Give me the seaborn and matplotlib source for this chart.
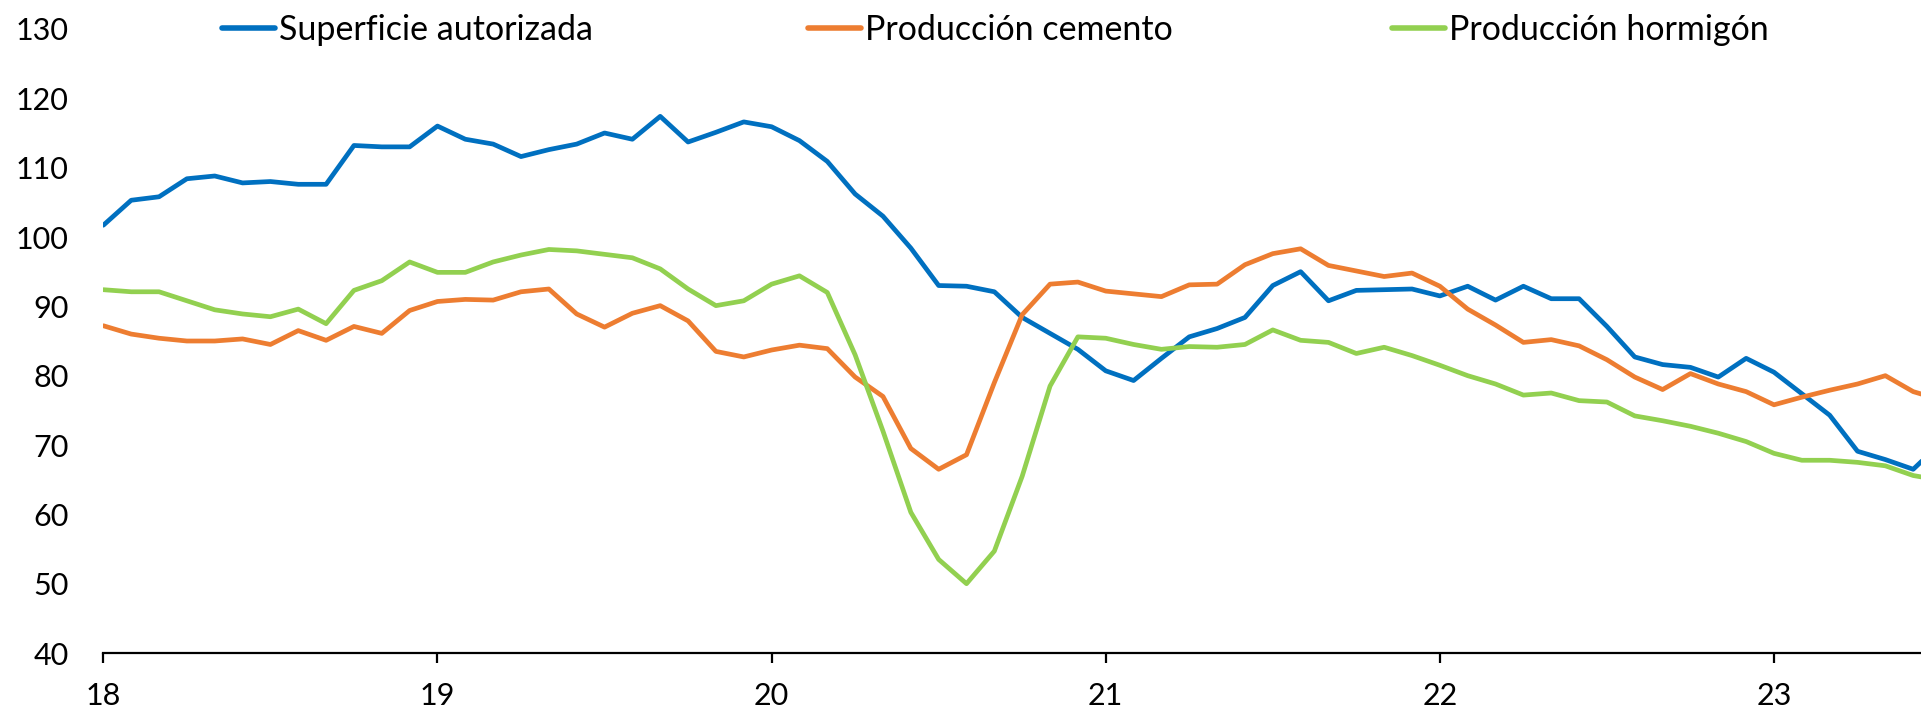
import numpy as np
import pandas as pd
import matplotlib
matplotlib.use("Agg")
import matplotlib.pyplot as plt
import seaborn as sns
from matplotlib.lines import Line2D

# ---- data (monthly, Jan 2018 .. Jul 2023) ----
series_names = ["Superficie autorizada", "Producción cemento", "Producción hormigón"]
superficie = [101.7, 105.3, 105.8, 108.4, 108.8, 107.8, 108.0, 107.6, 107.6, 113.2, 113.0, 113.0,
              116.0, 114.1, 113.4, 111.6, 112.6, 113.4, 115.0, 114.1, 117.4, 113.7, 115.1, 116.6,
              115.9, 113.9, 110.9, 106.2, 103.0, 98.4, 93.0, 92.9, 92.1, 88.4, 86.1, 83.8,
              80.7, 79.3, 82.5, 85.6, 86.8, 88.4, 93.0, 95.0, 90.8, 92.3, 92.4, 92.5,
              91.5, 92.9, 90.9, 92.9, 91.1, 91.1, 87.1, 82.7, 81.6, 81.2, 79.8, 82.5,
              80.5, 77.4, 74.3, 69.1, 67.9, 66.5, 70.3]
cemento = [87.2, 86.0, 85.4, 85.0, 85.0, 85.3, 84.5, 86.5, 85.1, 87.1, 86.1, 89.4,
           90.7, 91.0, 90.9, 92.1, 92.5, 88.9, 87.0, 89.0, 90.1, 87.9, 83.5, 82.7,
           83.7, 84.4, 83.9, 79.8, 77.0, 69.5, 66.5, 68.6, 79.0, 88.8, 93.2, 93.5,
           92.2, 91.8, 91.4, 93.1, 93.2, 96.0, 97.6, 98.3, 95.9, 95.1, 94.3, 94.8,
           92.9, 89.6, 87.3, 84.8, 85.2, 84.3, 82.3, 79.8, 78.0, 80.3, 78.8, 77.7,
           75.8, 76.9, 77.9, 78.8, 80.0, 77.7, 76.5]
hormigon = [92.4, 92.1, 92.1, 90.8, 89.5, 88.9, 88.5, 89.6, 87.5, 92.3, 93.7, 96.4,
            94.9, 94.9, 96.4, 97.4, 98.2, 98.0, 97.5, 97.0, 95.4, 92.5, 90.1, 90.8,
            93.2, 94.4, 92.0, 83.0, 72.0, 60.3, 53.5, 50.0, 54.7, 65.5, 78.5, 85.6,
            85.4, 84.5, 83.8, 84.2, 84.1, 84.5, 86.6, 85.1, 84.8, 83.2, 84.1, 82.9,
            81.5, 80.0, 78.8, 77.2, 77.5, 76.4, 76.2, 74.2, 73.5, 72.7, 71.7, 70.5,
            68.8, 67.8, 67.8, 67.5, 67.0, 65.6, 64.9]
dates = pd.date_range("2018-01-01", periods=len(superficie), freq="MS")
year_ticks = [18, 19, 20, 21, 22, 23]
year_labels = ["18", "19", "20", "21", "22", "23"]
y_ticks = [40, 50, 60, 70, 80, 90, 100, 110, 120, 130]
colors = ["#0070C0", "#ED7D31", "#92D050"]

xnum = (dates.year - 2000) + (dates.month - 1) / 12.0
df = pd.concat([
    pd.DataFrame({"x": xnum, "valor": vals, "serie": name})
    for name, vals in zip(series_names, [superficie, cemento, hormigon])
], ignore_index=True)

sns.set_theme(style="white")
plt.rcParams["font.family"] = ["Lato", "DejaVu Sans"]

fig = plt.figure(figsize=(19.21, 7.14), dpi=100)
ax = fig.add_axes([0.0538, 0.0854, 0.9462, 0.874])

sns.lineplot(data=df, x="x", y="valor", hue="serie", hue_order=series_names,
             palette=colors, linewidth=3.4, ax=ax, legend=False)

ax.set_xlim(18, 23.44)
ax.set_ylim(40, 130)
ax.set_xticks(year_ticks)
ax.set_xticklabels(year_labels)
ax.set_yticks(y_ticks)
ax.set_xlabel("")
ax.set_ylabel("")

for s in ["top", "right", "left"]:
    ax.spines[s].set_visible(False)
ax.spines["bottom"].set_color("black")
ax.spines["bottom"].set_linewidth(1.6)

ax.tick_params(axis="x", bottom=True, direction="out", length=7, width=1.6,
               color="black", labelsize=22, pad=14, labelcolor="black")
ax.tick_params(axis="y", left=False, length=0, labelsize=22, pad=25,
               labelcolor="black")
for lab in ax.get_xticklabels() + ax.get_yticklabels():
    lab.set_fontweight("normal")

# legend entries positioned individually
legend_x = [0.1155, 0.4205, 0.7245]
for name, col, lx in zip(series_names, colors, legend_x):
    h = Line2D([], [], color=col, linewidth=4)
    leg = fig.legend(handles=[h], labels=[name], loc="center left",
                     bbox_to_anchor=(lx, 0.958), frameon=False, fontsize=24.5,
                     handlelength=1.55, handletextpad=0.13, borderpad=0,
                     borderaxespad=0)
    for t in leg.get_texts():
        t.set_color("black")
        t.set_fontweight("normal")

fig.savefig("out.png", dpi=100)
